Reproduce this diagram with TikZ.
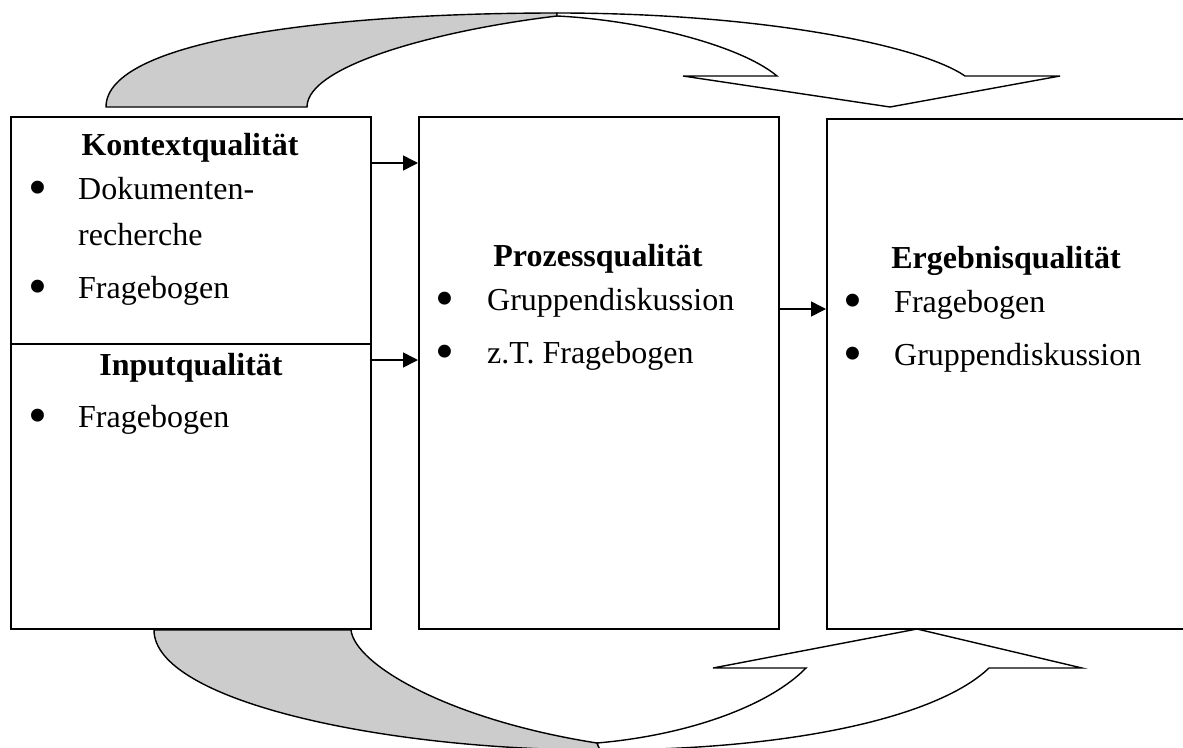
\documentclass[tikz,border=0pt]{standalone}
\usepackage{fontspec}
\setmainfont{Liberation Serif}
\usetikzlibrary{arrows.meta}
\begin{document}
\begin{tikzpicture}[x=1pt,y=-1pt,
  boxst/.style={draw,line width=1.6pt},
  band/.style={draw,line width=1.4pt,line join=miter},
  arr/.style={draw,line width=1.6pt,-{Triangle[length=15pt,width=15pt]}},
  title/.style={font=\fontsize{32}{38}\selectfont\bfseries,anchor=base,inner sep=0pt},
  item/.style={font=\fontsize{32}{38}\selectfont,anchor=base west,inner sep=0pt},
  bul/.style={font=\fontsize{54}{60}\selectfont,anchor=base,inner sep=0pt,yshift=-6pt}]
\clip (0,0) rectangle (1183,747);
\useasboundingbox (0,0) rectangle (1183,747);
\fill[white] (0,0) rectangle (1183,747);

% top curved arrow: grey back part
\path[band,fill={rgb,255:red,204;green,204;blue,204}]
  (106,107) .. controls (106,40) and (330,13) .. (557,13)
  -- (557,16) .. controls (440,30) and (307,65) .. (307,107) -- cycle;
% top curved arrow: front part with head
\path[band,fill=white]
  (557,13) .. controls (760,13) and (920,45) .. (965,76)
  -- (1060,76) -- (890,107) -- (683,76) -- (777,76)
  .. controls (740,45) and (640,20) .. (557,16) -- cycle;

% bottom curved arrow: grey back part
\path[band,fill={rgb,255:red,204;green,204;blue,204}]
  (154,630) .. controls (154,700) and (380,750) .. (600,750)
  -- (597,743) .. controls (450,720) and (355,665) .. (351,630) -- cycle;
% bottom curved arrow: front part with head
\path[band,fill=white]
  (600,750) .. controls (800,750) and (940,715) .. (989,668)
  -- (1082,668) -- (917,629) -- (713,668) -- (806,668)
  .. controls (770,705) and (690,735) .. (597,743) -- cycle;

% boxes
\node[boxst,minimum width=360pt,minimum height=227pt,inner sep=0pt,anchor=north west] (kontext) at (10,116) {};
\node[boxst,minimum width=360pt,minimum height=285pt,inner sep=0pt,anchor=north west] (input) at (10,343) {};
\node[boxst,minimum width=360pt,minimum height=512pt,inner sep=0pt,anchor=north west] (prozess) at (418,116) {};
\node[boxst,minimum width=400pt,minimum height=510pt,inner sep=0pt,anchor=north west] (ergebnis) at (826,118) {};

% connectors
\draw[arr] (kontext.east |- 0,163) -- (prozess.west |- 0,163);
\draw[arr] (input.east |- 0,360) -- (prozess.west |- 0,360);
\draw[arr] (prozess.east |- 0,309) -- (ergebnis.west |- 0,309);

% texts left box
\node[title] (t1) at (190,155) {Kontextqualität};
\node[bul] (b1) at (38,199) {•};
\node[item] (i1) at (78,199) {Dokumenten-};
\node[item] (i2) at (78,245) {recherche};
\node[bul] (b2) at (38,298) {•};
\node[item] (i3) at (78,298) {Fragebogen};
\node[title] (t2) at (191,375) {Inputqualität};
\node[bul] (b3) at (38,427) {•};
\node[item] (i4) at (78,427) {Fragebogen};

% texts middle box
\node[title] (t3) at (598,266) {Prozessqualität};
\node[bul] (b4) at (445,310) {•};
\node[item] (i5) at (487,310) {Gruppendiskussion};
\node[bul] (b5) at (445,363) {•};
\node[item] (i6) at (487,363) {z.T. Fragebogen};

% texts right box
\node[title] (t4) at (1006,268) {Ergebnisqualität};
\node[bul] (b6) at (853,312) {•};
\node[item] (i7) at (894,312) {Fragebogen};
\node[bul] (b7) at (853,365) {•};
\node[item] (i8) at (894,365) {Gruppendiskussion};
\end{tikzpicture}
\end{document}
